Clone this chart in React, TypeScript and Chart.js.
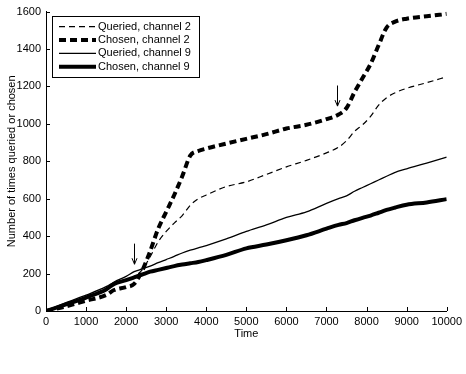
import React, { useEffect, useRef } from "react";
import { Chart, registerables } from "chart.js";

Chart.register(...registerables);

const times = [0, 500, 1000, 1500, 1700, 2000, 2200, 2400, 2600, 2800, 3000, 3200, 3400, 3600, 3800, 4000, 4500, 5000, 5500, 6000, 6500, 7000, 7300, 7500, 7700, 7900, 8100, 8300, 8500, 8700, 9000, 9500, 10000];

const queriedCh2 = [0, 35, 70, 110, 140, 165, 185, 220, 290, 370, 425, 470, 510, 565, 600, 620, 665, 690, 730, 770, 805, 845, 875, 910, 960, 995, 1040, 1100, 1140, 1165, 1190, 1220, 1252];
const chosenCh2 = [0, 25, 55, 85, 112, 128, 145, 215, 320, 440, 530, 620, 720, 830, 855, 868, 895, 920, 945, 975, 995, 1025, 1050, 1085, 1170, 1245, 1320, 1420, 1515, 1545, 1562, 1575, 1588];
const queriedCh9 = [0, 45, 85, 130, 155, 185, 210, 225, 240, 258, 275, 292, 310, 325, 338, 350, 385, 425, 460, 500, 530, 575, 600, 615, 640, 660, 680, 700, 720, 740, 760, 790, 822];
const chosenCh9 = [0, 35, 72, 115, 145, 165, 180, 195, 210, 220, 230, 240, 248, 255, 262, 272, 300, 335, 355, 378, 405, 440, 460, 470, 485, 498, 510, 525, 540, 552, 568, 580, 598];

const seriesLabels = ["Queried, channel 2", "Chosen, channel 2", "Queried, channel 9", "Chosen, channel 9"];

const arrowTimes = [2200, 7250];
const arrowTops = [360, 1205];
const arrowTips = [250, 1095];

const FONT = "'Liberation Sans', Arial, Helvetica, sans-serif";

const styles = [
  { width: 1.2, dash: [6, 4] },
  { width: 4, dash: [7, 4] },
  { width: 1.3, dash: [] as number[] },
  { width: 4, dash: [] as number[] },
];

const seriesValues = [queriedCh2, chosenCh2, queriedCh9, chosenCh9];

const overlayPlugin = {
  id: "overlay",
  afterDraw(chart: any) {
    const ctx = chart.ctx as CanvasRenderingContext2D;
    const xs = chart.scales.x;
    const ys = chart.scales.y;
    const area = chart.chartArea;
    ctx.save();
    ctx.strokeStyle = "#000";
    ctx.lineWidth = 1;
    // inward ticks
    ctx.beginPath();
    xs.ticks.forEach((t: any) => {
      const px = Math.round(xs.getPixelForValue(t.value)) + 0.5;
      ctx.moveTo(px, area.bottom);
      ctx.lineTo(px, area.bottom - 4);
    });
    ys.ticks.forEach((t: any) => {
      const py = Math.round(ys.getPixelForValue(t.value)) + 0.5;
      ctx.moveTo(area.left, py);
      ctx.lineTo(area.left + 4, py);
    });
    ctx.stroke();

    // arrows
    for (let i = 0; i < arrowTimes.length; i++) {
      const x = Math.round(xs.getPixelForValue(arrowTimes[i])) + 0.5;
      const y1 = ys.getPixelForValue(arrowTops[i]);
      const y2 = ys.getPixelForValue(arrowTips[i]);
      ctx.beginPath();
      ctx.moveTo(x, y1);
      ctx.lineTo(x, y2);
      ctx.moveTo(x - 2.5, y2 - 6);
      ctx.lineTo(x, y2);
      ctx.lineTo(x + 2.5, y2 - 6);
      ctx.stroke();
    }

    // legend
    const bx = area.left + 6;
    const by = area.top + 4;
    const bw = 147;
    const bh = 61;
    ctx.fillStyle = "#fff";
    ctx.fillRect(bx, by, bw, bh);
    ctx.strokeStyle = "#000";
    ctx.lineWidth = 1;
    ctx.setLineDash([]);
    ctx.strokeRect(Math.round(bx) + 0.5, Math.round(by) + 0.5, bw, bh);
    ctx.font = `11px ${FONT}`;
    ctx.textBaseline = "middle";
    ctx.textAlign = "left";
    chart.data.datasets.forEach((ds: any, i: number) => {
      const cy = by + 11 + i * 13.4;
      ctx.beginPath();
      ctx.lineWidth = ds.borderWidth;
      ctx.setLineDash(ds.borderDash || []);
      ctx.moveTo(bx + 7, cy);
      ctx.lineTo(bx + 44, cy);
      ctx.stroke();
      ctx.setLineDash([]);
      ctx.fillStyle = "#000";
      ctx.fillText(ds.label, bx + 46, cy);
    });
    ctx.restore();
  },
};

const plain = (v: any) => String(v);

export default function App() {
  const ref = useRef<HTMLCanvasElement>(null);
  useEffect(() => {
    if (!ref.current) return;
    const datasets = seriesValues.map((vals, i) => ({
      label: seriesLabels[i],
      data: times.map((t, j) => ({ x: t, y: vals[j] })),
      borderColor: "#000",
      backgroundColor: "#000",
      borderWidth: styles[i].width,
      borderDash: styles[i].dash,
      pointRadius: 0,
      fill: false,
      cubicInterpolationMode: "monotone" as const,
    }));
    const chart = new Chart(ref.current, {
      type: "line",
      data: { datasets },
      options: {
        responsive: false,
        animation: false,
        layout: { padding: { left: 0, top: 7, right: 17, bottom: 0 } },
        plugins: { legend: { display: false }, tooltip: { enabled: false } },
        scales: {
          x: {
            type: "linear",
            min: 0,
            max: 10000,
            grid: { display: false, drawTicks: false, tickLength: 0 },
            border: { display: true, color: "#000", width: 1 },
            ticks: {
              stepSize: 1000,
              color: "#000",
              font: { family: FONT, size: 11 },
              padding: 4,
              maxRotation: 0,
              autoSkip: false,
              callback: plain,
            },
            title: {
              display: true,
              text: "Time",
              color: "#000",
              font: { family: FONT, size: 11 },
              padding: { top: 0, bottom: 33 },
            },
            afterFit: (s: any) => {
              s.height = 63;
            },
          },
          y: {
            type: "linear",
            min: 0,
            max: 1600,
            grid: { display: false, drawTicks: false, tickLength: 0 },
            border: { display: true, color: "#000", width: 1 },
            ticks: {
              stepSize: 200,
              color: "#000",
              font: { family: FONT, size: 11 },
              padding: 5,
              callback: plain,
            },
            title: {
              display: true,
              text: "Number of times queried or chosen",
              color: "#000",
              font: { family: FONT, size: 11 },
              padding: { top: 5, bottom: 0 },
            },
            afterFit: (s: any) => {
              s.width = 46;
            },
          },
        },
      },
      plugins: [overlayPlugin],
    });
    return () => chart.destroy();
  }, []);
  return (
    <div style={{ position: "fixed", left: 0, top: 0, width: 466, height: 374, background: "#fff" }}>
      <canvas ref={ref} width={466} height={374} style={{ display: "block" }} />
    </div>
  );
}
